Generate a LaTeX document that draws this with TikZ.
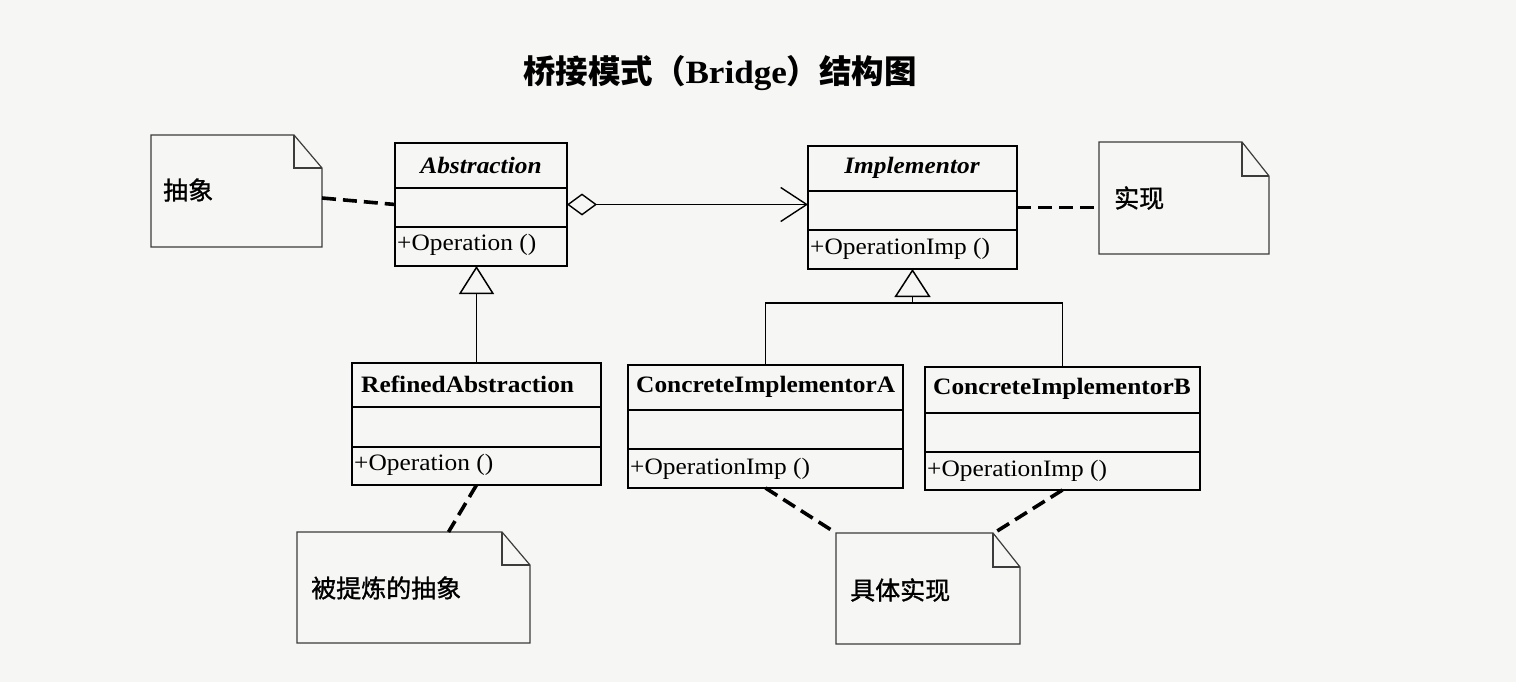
\documentclass[tikz,border=0pt]{standalone}
\usepackage{fontspec}
\usetikzlibrary{arrows.meta}
\newfontfamily\cjk{Noto Sans CJK SC}
\newfontfamily\cjknote{Noto Sans CJK SC}[FakeBold=1.2]
\newfontfamily\umlfont{Liberation Serif}[FakeStretch=1.08]
\definecolor{scanbg}{RGB}{246,246,244}
\definecolor{noteink}{RGB}{60,60,60}
\tikzset{
  classbox/.style={draw, line width=1.6pt, rectangle, inner sep=0pt, outer sep=0pt, anchor=north west},
  notebox/.style={rectangle, inner sep=0pt, outer sep=0pt, anchor=north west},
  noteline/.style={draw=noteink, line width=1.2pt, line join=miter},
  notelink/.style={line width=3.6pt, dash pattern=on 14pt off 7pt},
  umltext/.style={font=\umlfont\fontsize{23.5}{26}\selectfont, inner sep=0pt},
  notetext/.style={font=\cjknote\fontsize{25}{28}\selectfont, inner sep=0pt, anchor=west}
}
\begin{document}
\begin{tikzpicture}[x=1pt, y=-1pt]
\useasboundingbox (0,0) rectangle (1516,682);
\fill[scanbg] (0,0) rectangle (1516,682);
% Title
\node[inner sep=0pt] (title) at (720,73)
  {\fontsize{32.5}{35}\selectfont{\cjk\bfseries 桥接模式（}{\umlfont\bfseries Bridge}{\cjk\bfseries ）结构图}};
% Classes
\node[classbox, minimum width=172pt, minimum height=123pt] (abs) at (395,143) {};
\node[classbox, minimum width=209pt, minimum height=123pt] (imp) at (808,146) {};
\node[classbox, minimum width=249pt, minimum height=122pt] (ref) at (352,363) {};
\node[classbox, minimum width=275pt, minimum height=123pt] (cia) at (628,365) {};
\node[classbox, minimum width=275pt, minimum height=123pt] (cib) at (925,367) {};
% Compartments
\draw[line width=1.6pt] ([yshift=-45pt]abs.north west) -- ([yshift=-45pt]abs.north east);
\draw[line width=1.6pt] ([yshift=-84pt]abs.north west) -- ([yshift=-84pt]abs.north east);
\draw[line width=1.6pt] ([yshift=-45pt]imp.north west) -- ([yshift=-45pt]imp.north east);
\draw[line width=1.6pt] ([yshift=-84pt]imp.north west) -- ([yshift=-84pt]imp.north east);
\draw[line width=1.6pt] ([yshift=-44pt]ref.north west) -- ([yshift=-44pt]ref.north east);
\draw[line width=1.6pt] ([yshift=-84pt]ref.north west) -- ([yshift=-84pt]ref.north east);
\draw[line width=1.6pt] ([yshift=-45pt]cia.north west) -- ([yshift=-45pt]cia.north east);
\draw[line width=1.6pt] ([yshift=-84pt]cia.north west) -- ([yshift=-84pt]cia.north east);
\draw[line width=1.6pt] ([yshift=-46pt]cib.north west) -- ([yshift=-46pt]cib.north east);
\draw[line width=1.6pt] ([yshift=-85pt]cib.north west) -- ([yshift=-85pt]cib.north east);
% Class texts
\node[umltext] (absname) at (481,165) {\bfseries\itshape Abstraction};
\node[umltext, anchor=west] (absop) at (397,245) {+Operation ()};
\node[umltext] (impname) at (912,168) {\bfseries\itshape Implementor};
\node[umltext, anchor=west] (impop) at (810,249) {+OperationImp ()};
\node[umltext, anchor=west] (refname) at (361,384) {\bfseries RefinedAbstraction};
\node[umltext, anchor=west] (refop) at (354,465) {+Operation ()};
\node[umltext, anchor=west] (cianame) at (636,387) {\bfseries ConcreteImplementorA};
\node[umltext, anchor=west] (ciaop) at (630,469) {+OperationImp ()};
\node[umltext, anchor=west] (cibname) at (933,389) {\bfseries ConcreteImplementorB};
\node[umltext, anchor=west] (cibop) at (927,471) {+OperationImp ()};
% Aggregation
\draw[line width=1.4pt, {Diamond[open, length=30pt, width=22pt]}-{Straight Barb[length=26pt, width=34pt]}]
  (abs.east) -- (abs.east -| imp.west);
% Generalization
\draw[line width=1.5pt, -{Triangle[open, length=28pt, width=35pt]}] (ref.north) -- (ref.north |- abs.south);
\coordinate (join) at (imp.south |- 0,303);
\draw[line width=1.5pt] (cia.north) |- (join) -| (cib.north);
\draw[line width=1.5pt, -{Triangle[open, length=28pt, width=36pt]}] (join) -- (imp.south);
% Notes
\node[notebox, minimum width=171pt, minimum height=112pt] (nabs) at (151,135) {};
\node[notebox, minimum width=170pt, minimum height=112pt] (nimp) at (1099,142) {};
\node[notebox, minimum width=233pt, minimum height=111pt] (nref) at (297,532) {};
\node[notebox, minimum width=184pt, minimum height=111pt] (ncon) at (836,533) {};
\draw[noteline] (nabs.south west) -- (nabs.north west) -- ([xshift=-28pt]nabs.north east) -- ([yshift=-33pt]nabs.north east) -- (nabs.south east) -- cycle;
\draw[noteline] ([xshift=-28pt]nabs.north east) |- ([yshift=-33pt]nabs.north east);
\draw[noteline] (nimp.south west) -- (nimp.north west) -- ([xshift=-27pt]nimp.north east) -- ([yshift=-34pt]nimp.north east) -- (nimp.south east) -- cycle;
\draw[noteline] ([xshift=-27pt]nimp.north east) |- ([yshift=-34pt]nimp.north east);
\draw[noteline] (nref.south west) -- (nref.north west) -- ([xshift=-28pt]nref.north east) -- ([yshift=-33pt]nref.north east) -- (nref.south east) -- cycle;
\draw[noteline] ([xshift=-28pt]nref.north east) |- ([yshift=-33pt]nref.north east);
\draw[noteline] (ncon.south west) -- (ncon.north west) -- ([xshift=-27pt]ncon.north east) -- ([yshift=-34pt]ncon.north east) -- (ncon.south east) -- cycle;
\draw[noteline] ([xshift=-27pt]ncon.north east) |- ([yshift=-34pt]ncon.north east);
% Note texts
\node[notetext] (nabstext) at (163,190) {抽象};
\node[notetext] (nimptext) at (1114,198) {实现};
\node[notetext] (nreftext) at (311,588) {被提炼的抽象};
\node[notetext] (ncontext) at (850,590) {具体实现};
% Note links
\draw[notelink] ([yshift=-7pt]nabs.east) -- (abs.west);
\draw[notelink] (imp.east) -- (imp.east -| nimp.west);
\draw[notelink] (ref.south) -- ([xshift=35pt]nref.north);
\draw[notelink] (cia.south) -- (ncon.north west);
\draw[notelink] (cib.south) -- ([xshift=-26pt]ncon.north east);
\end{tikzpicture}
\end{document}
